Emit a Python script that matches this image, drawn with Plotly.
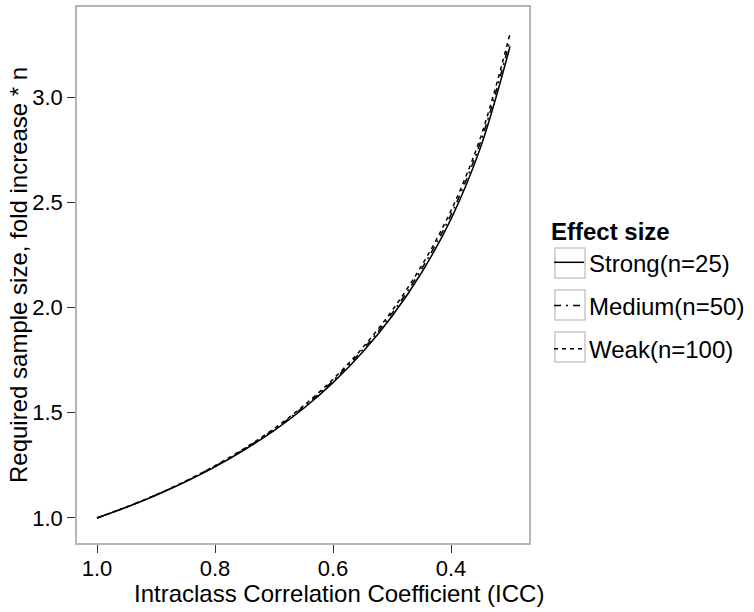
import plotly.graph_objects as go

# ---- data ----
icc = [1.00, 0.95, 0.90, 0.85, 0.80, 0.75, 0.70, 0.65, 0.60, 0.55, 0.50, 0.45, 0.40, 0.35, 0.30]
strong = [1.000, 1.051, 1.108, 1.172, 1.243, 1.324, 1.415, 1.520, 1.643, 1.787, 1.958, 2.165, 2.420, 2.760, 3.240]
medium = [1.000, 1.052, 1.109, 1.174, 1.246, 1.328, 1.420, 1.527, 1.652, 1.798, 1.972, 2.182, 2.441, 2.785, 3.270]
weak = [1.000, 1.052, 1.110, 1.175, 1.248, 1.331, 1.424, 1.533, 1.659, 1.808, 1.985, 2.198, 2.460, 2.808, 3.300]
series_names = ["Strong(n=25)", "Medium(n=50)", "Weak(n=100)"]
x_tick_vals = [1.0, 0.8, 0.6, 0.4]
x_tick_text = ["1.0", "0.8", "0.6", "0.4"]
y_tick_vals = [1.0, 1.5, 2.0, 2.5, 3.0]
y_tick_text = ["1.0", "1.5", "2.0", "2.5", "3.0"]

# ---- layout geometry (pixels) ----
W, H = 754, 612
L, R, T, B = 77, 529, 7, 543
FONT = "Liberation Sans, Arial, Helvetica, sans-serif"


def px_x(px):
    return (px - L) / (R - L)


def px_y(py):
    return (B - py) / (B - T)


fig = go.Figure()
dashes = ["solid", "7px,5px,2px,5px", "4px,4px"]
for name, ys, d in zip(series_names, [strong, medium, weak], dashes):
    fig.add_trace(go.Scatter(
        x=icc, y=ys, mode="lines", name=name, legendgroup=name,
        line=dict(color="black", width=1.5, dash=d, shape="spline"),
    ))

axis_common = dict(
    showgrid=False, zeroline=False, showline=True, mirror=True,
    linecolor="#b5b5b5", linewidth=1.5,
    ticks="outside", ticklen=8, tickwidth=1.3, tickcolor="#333333",
    tickfont=dict(family=FONT, size=22, color="black"),
)

fig.update_layout(
    width=W, height=H,
    margin=dict(l=L, r=W - R, t=T, b=H - B, autoexpand=False),
    plot_bgcolor="white", paper_bgcolor="white",
    font=dict(family=FONT, color="black"),
    xaxis=dict(range=[1.0339, 0.2678], tickvals=x_tick_vals, ticktext=x_tick_text,
               ticklabelstandoff=-3, **axis_common),
    yaxis=dict(range=[0.881, 3.4276], tickvals=y_tick_vals, ticktext=y_tick_text, **axis_common),
    showlegend=True,
    legend=dict(
        title=dict(text="<b>Effect size</b>", font=dict(size=24, family=FONT)),
        font=dict(size=24, family=FONT, color="black"),
        x=px_x(549), xanchor="left", y=px_y(209), yanchor="top",
        bgcolor="rgba(0,0,0,0)", borderwidth=0, tracegroupgap=9,
    ),
    annotations=[
        dict(text="Intraclass Correlation Coefficient (ICC)", xref="paper", yref="paper",
             x=px_x(339), y=px_y(593), xanchor="center", yanchor="middle", showarrow=False,
             font=dict(size=24, family=FONT, color="black")),
        dict(text="Required sample size, fold increase * n", xref="paper", yref="paper",
             x=px_x(18), y=0.5, xanchor="center", yanchor="middle", textangle=-90, showarrow=False,
             font=dict(size=24, family=FONT, color="black")),
    ],
    shapes=[
        dict(type="rect", xref="paper", yref="paper", x0=px_x(555), x1=px_x(585),
             y0=px_y(c - 15), y1=px_y(c + 15), line=dict(color="#c8c8c8", width=1.5), layer="below")
        for c in (263, 305, 347)
    ],
)

fig.write_html(
    "out.html",
    config={"displayModeBar": False},
    post_script="document.body.style.margin='0';document.body.style.padding='0';",
)
